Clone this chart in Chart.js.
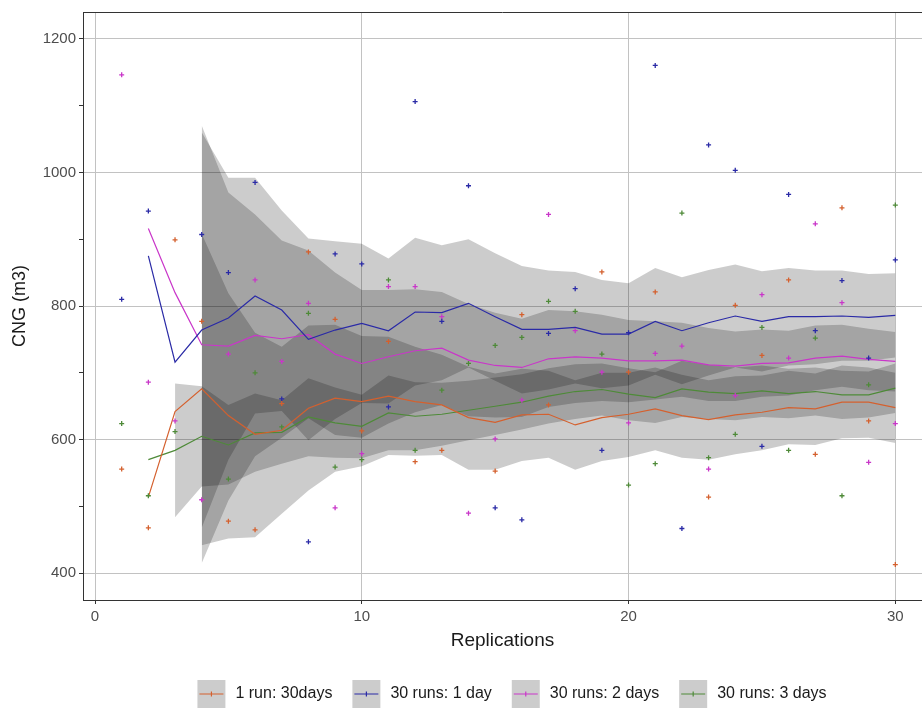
<!DOCTYPE html>
<html>
<head>
<meta charset="utf-8">
<script src="https://cdn.jsdelivr.net/npm/chart.js@4.4.1/dist/chart.umd.min.js"></script>
<style>
  html, body { margin: 0; padding: 0; background: #fff; }
</style>
</head>
<body>
<canvas id="cng" width="922" height="711"></canvas>
<script>
// replications on the x axis
const reps = [1,2,3,4,5,6,7,8,9,10,11,12,13,14,15,16,17,18,19,20,21,22,23,24,25,26,27,28,29,30];

const seriesNames = ["1 run: 30days", "30 runs: 1 day", "30 runs: 2 days", "30 runs: 3 days"];
const seriesColors = ["#d4602e", "#2a2aa6", "#c936c9", "#4e8a38"];

// single replication values (null = outside the plotted range)
const run30Pts = [556,468,899,777,478,465,654,881,780,613,747,567,584,null,553,787,652,null,851,701,821,null,514,801,726,839,578,947,628,413];
const day1Pts  = [810,942,null,907,850,985,661,447,878,863,649,1106,777,980,498,480,759,826,584,760,1160,467,1041,1003,590,967,763,838,722,869];
const day2Pts  = [1146,686,628,510,728,839,717,804,498,579,829,829,784,490,601,659,937,763,701,625,729,740,556,666,817,722,923,805,566,624];
const day3Pts  = [624,516,612,null,541,700,619,789,559,570,839,584,674,714,741,753,807,792,728,532,564,939,573,608,768,584,752,516,682,951];

// running mean lines
const run30Mean = [null,514,642,676,636,608,614,647,662,657,665,657,652,633,626,637,638,622,633,638,646,636,630,637,641,648,646,656,656,648];
const day1Mean  = [null,875,716,764,782,815,794,750,764,774,763,791,790,804,784,765,765,768,758,758,777,763,775,785,777,784,784,785,783,786];
const day2Mean  = [null,916,820,742,740,756,751,757,728,714,724,733,737,719,711,708,721,724,722,718,718,719,712,710,714,715,722,725,720,717];
const day3Mean  = [null,570,584,605,592,610,611,634,625,620,640,635,638,644,650,656,665,672,675,668,663,676,671,669,673,669,672,667,667,677];

// confidence bands (lower / upper)
const run30Lo = [null,null,null,442,452,454,489,524,552,560,577,576,577,555,555,568,573,555,568,574,584,573,570,578,584,593,592,602,603,595];
const run30Hi = [null,null,null,908,819,760,739,771,772,755,754,739,727,709,699,706,703,689,700,700,708,697,689,695,696,703,699,711,708,700];
const day1Lo  = [null,null,null,468,570,639,643,599,631,655,654,681,689,708,688,669,675,684,677,681,697,683,696,708,702,711,713,718,718,723];
const day1Hi  = [null,null,null,1060,992,992,943,901,897,893,871,902,891,900,879,860,853,851,839,834,857,843,854,862,852,857,853,853,848,849];
const day2Lo  = [null,null,null,415,509,575,603,632,607,603,624,641,652,635,633,634,649,655,658,656,660,664,658,658,664,666,674,679,674,672];
const day2Hi  = [null,null,null,1070,970,937,898,883,850,824,824,825,821,803,790,781,794,792,787,779,777,775,767,762,765,763,771,772,766,761];
const day3Lo  = [null,null,484,530,533,552,564,575,573,572,584,584,591,599,607,615,624,631,636,629,625,634,631,629,634,632,636,631,633,640];
const day3Hi  = [null,null,684,680,652,669,659,692,678,667,696,686,685,688,693,698,707,713,714,707,701,718,712,708,711,706,708,703,702,714];

const yTicks = [400,500,600,700,800,900,1000,1100,1200];
const xTicks = [0,10,20,30];

const FONT = '"Liberation Sans", Arial, sans-serif';
const bandFill = "rgba(0,0,0,0.2)";

function toXY(arr) {
  return reps.map((x, i) => ({ x: x, y: arr[i] })).filter(p => p.y !== null);
}

const pts = [run30Pts, day1Pts, day2Pts, day3Pts];
const means = [run30Mean, day1Mean, day2Mean, day3Mean];
const bands = [[run30Lo, run30Hi], [day1Lo, day1Hi], [day2Lo, day2Hi], [day3Lo, day3Hi]];

const datasets = [];
bands.forEach((b) => {
  datasets.push({ data: toXY(b[1]), fill: "+1", backgroundColor: bandFill, borderWidth: 0, pointRadius: 0, order: 2 });
  datasets.push({ data: toXY(b[0]), fill: false, borderWidth: 0, pointRadius: 0, order: 2 });
});
means.forEach((m, i) => {
  datasets.push({ data: toXY(m), borderColor: seriesColors[i], borderWidth: 1.2, pointRadius: 0, fill: false, tension: 0, order: 1 });
});
pts.forEach((p, i) => {
  datasets.push({ data: toXY(p), showLine: false, pointStyle: "cross", pointRadius: 2.5, borderWidth: 1.3,
    borderColor: seriesColors[i], backgroundColor: seriesColors[i], order: 0 });
});

// top edge of the panel
const topBorder = {
  id: "topBorder",
  afterDatasetsDraw(chart) {
    const { ctx, chartArea } = chart;
    ctx.save();
    ctx.strokeStyle = "#333";
    ctx.lineWidth = 1;
    ctx.beginPath();
    ctx.moveTo(chartArea.left, chartArea.top + 0.5);
    ctx.lineTo(chartArea.right, chartArea.top + 0.5);
    ctx.stroke();
    ctx.restore();
  }
};

// legend row under the plot
const keyRow = {
  id: "keyRow",
  afterDraw(chart) {
    const ctx = chart.ctx;
    ctx.save();
    ctx.font = "16px " + FONT;
    const key = 28, keyGap = 10, itemGap = 20, cy = 694;
    const widths = seriesNames.map(n => ctx.measureText(n).width);
    const total = widths.reduce((a, w) => a + key + keyGap + w, 0) + itemGap * (seriesNames.length - 1);
    let x = 512 - total / 2;
    seriesNames.forEach((name, i) => {
      ctx.fillStyle = bandFill;
      ctx.fillRect(x, cy - key / 2, key, key);
      ctx.strokeStyle = seriesColors[i];
      ctx.lineWidth = 1.2;
      ctx.beginPath();
      ctx.moveTo(x + 2, cy); ctx.lineTo(x + key - 2, cy);
      ctx.moveTo(x + key / 2, cy - 2.5); ctx.lineTo(x + key / 2, cy + 2.5);
      ctx.stroke();
      ctx.fillStyle = "#1a1a1a";
      ctx.textBaseline = "middle";
      ctx.fillText(name, x + key + keyGap, cy);
      x += key + keyGap + widths[i] + itemGap;
    });
    ctx.restore();
  }
};

new Chart(document.getElementById("cng"), {
  type: "line",
  data: { datasets: datasets },
  plugins: [topBorder, keyRow],
  options: {
    responsive: false,
    animation: false,
    layout: { autoPadding: false, padding: { top: 8, right: 0, bottom: 56, left: 0 } },
    plugins: { legend: { display: false }, tooltip: { enabled: false } },
    scales: {
      x: {
        type: "linear",
        min: -0.45,
        max: 31.0,
        afterBuildTicks: (s) => { s.ticks = xTicks.map(v => ({ value: v })); },
        afterFit: (s) => { s.height = 55; },
        grid: { color: "#c2c2c2", tickColor: "#333", tickLength: 4 },
        border: { color: "#333" },
        ticks: { color: "#4d4d4d", font: { family: FONT, size: 15 }, padding: 4, maxRotation: 0 },
        title: { display: true, text: "Replications", color: "#1a1a1a", font: { family: FONT, size: 19 }, padding: { top: 0, bottom: 3 } }
      },
      y: {
        min: 360,
        max: 1240,
        afterBuildTicks: (s) => { s.ticks = yTicks.map(v => ({ value: v })); },
        afterFit: (s) => { s.width = 83; },
        grid: {
          color: (c) => (c.tick && c.tick.value % 200 === 0) ? "#c2c2c2" : "rgba(0,0,0,0)",
          tickColor: "#333",
          tickLength: 4
        },
        border: { color: "#333" },
        ticks: {
          color: "#4d4d4d",
          font: { family: FONT, size: 15 },
          padding: 3,
          callback: (v) => (v % 200 === 0 ? String(v) : "")
        },
        title: { display: true, text: "CNG (m3)", color: "#1a1a1a", font: { family: FONT, size: 18 }, padding: { top: 9, bottom: 0 } }
      }
    }
  }
});
</script>
</body>
</html>
